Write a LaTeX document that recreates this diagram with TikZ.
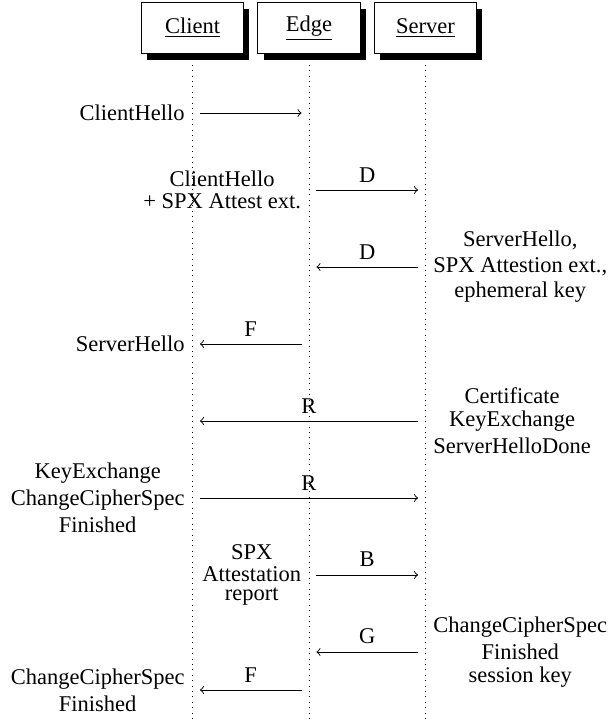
\documentclass[tikz,border=0pt]{standalone}
\usepackage{fontspec}
\setmainfont{Liberation Serif}
\usetikzlibrary{arrows}

\begin{document}
\begin{tikzpicture}[
            x = 0.015625cm, % one unit is one pixel of the drawing
            y = -0.015625cm,
            > = to, % arrow head style
            shorten > = 3.3pt, % keep arrow head off the lifeline
            shorten < = 3.3pt,
            node distance = 1.82cm, % distance between lifelines
            thin % line style
        ]

        \tikzstyle{inst}=[
            draw = black,
            fill = white,
            minimum height = 0.8cm,
            minimum width = 1.6cm,
            preaction = {fill = black,
                transform canvas = {xshift = 0.09cm, yshift = -0.1cm}}
        ]
        \tikzstyle{life}=[
            dotted,
            shorten > = 0pt,
            shorten < = 0pt
        ]

        \useasboundingbox (0,0) rectangle (608,723);

        \node[inst] (client) at (192.5,28) {\underline{Client}};
        \node[inst] (edge) [right of=client] {\underline{Edge}};
        \node[inst] (server) [right of=edge] {\underline{Server}};

        \coordinate (client end) at (client |- 0,723);
        \coordinate (edge end) at (edge |- 0,723);
        \coordinate (server end) at (server |- 0,723);

        \draw[life] (client.south) -- (client end);
        \draw[life] (edge.south) -- (edge end);
        \draw[life] (server.south) -- (server end);

        % message levels on the lifelines
        \coordinate (c1) at (client |- 0,113);
        \coordinate (e1) at (edge |- 0,113);
        \coordinate (e2) at (edge |- 0,190);
        \coordinate (s2) at (server |- 0,190);
        \coordinate (e3) at (edge |- 0,267);
        \coordinate (s3) at (server |- 0,267);
        \coordinate (c4) at (client |- 0,344);
        \coordinate (e4) at (edge |- 0,344);
        \coordinate (c5) at (client |- 0,421);
        \coordinate (s5) at (server |- 0,421);
        \coordinate (c6) at (client |- 0,498);
        \coordinate (s6) at (server |- 0,498);
        \coordinate (e7) at (edge |- 0,575);
        \coordinate (s7) at (server |- 0,575);
        \coordinate (e8) at (edge |- 0,652);
        \coordinate (s8) at (server |- 0,652);
        \coordinate (c9) at (client |- 0,690);
        \coordinate (e9) at (edge |- 0,690);

        \node[left] (hello) at (c1) {ClientHello};
        \node[left] (attest ext) at (e2) {\shortstack{ClientHello\\+ SPX Attest ext.}};
        \node[right] (server hello) at (s3) {\shortstack{ServerHello,\\SPX Attestion ext.,\\ephemeral key}};
        \node[left] (hello back) at (c4) {ServerHello};
        \node[right] (certificate) at (s5) {\shortstack{Certificate\\KeyExchange\\ServerHelloDone}};
        \node[left] (key exchange) at (c6) {\shortstack{KeyExchange\\ChangeCipherSpec\\Finished}};
        \node[left] (report) at (e7) {\shortstack{SPX\\Attestation\\report}};
        \node[right] (finished) at (s8) {\shortstack{ChangeCipherSpec\\Finished\\session key}};
        \node[left] (done) at (c9) {\shortstack{ChangeCipherSpec\\Finished}};

        \path[->] (c1) edge (e1);
        \path[->] (e2) edge node[above] {D} (s2);
        \path[->] (s3) edge node[above] {D} (e3);
        \path[->] (e4) edge node[above] {F} (c4);
        \path[->] (s5) edge node[above] {R} (c5);
        \path[->] (c6) edge node[above] {R} (s6);
        \path[->] (e7) edge node[above] {B} (s7);
        \path[->] (s8) edge node[above] {G} (e8);
        \path[->] (e9) edge node[above] {F} (c9);

\end{tikzpicture}
\end{document}
